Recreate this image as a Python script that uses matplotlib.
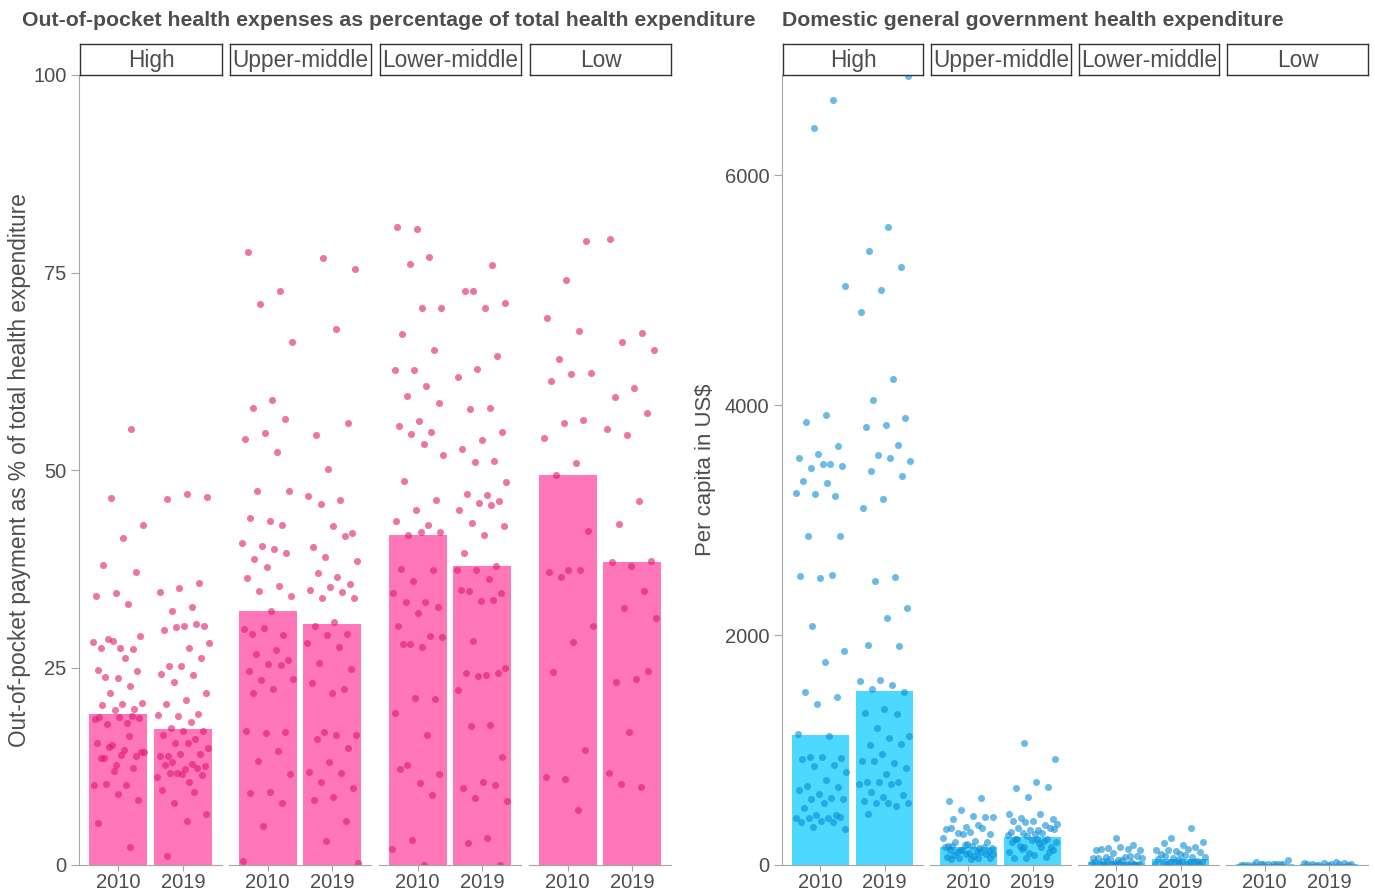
import numpy as np
import matplotlib
matplotlib.use("Agg")
import matplotlib.pyplot as plt

plt.rcParams['font.family'] = ['Liberation Sans', 'DejaVu Sans']

W, H = 1375, 893

income_groups = ["High", "Upper-middle", "Lower-middle", "Low"]
years = ["2010", "2019"]

# ---- Left panel: out-of-pocket % of total health expenditure ----
oop_bar_2010 = [19.1, 32.1, 41.8, 49.4]
oop_bar_2019 = [17.2, 30.5, 37.8, 38.4]

oop_high_2010 = [55.2, 46.5, 43.0, 41.4, 38.0, 37.1, 34.4, 34.0, 33.0, 28.6, 29.0, 27.5, 27.5,
                 27.4, 28.4, 28.2, 26.2, 23.8, 24.6, 23.7, 24.7, 22.7, 21.8, 20.5, 20.4, 20.2,
                 19.7, 19.6, 18.5, 18.0, 17.9, 18.6, 18.7, 18.7, 18.8, 15.2, 14.3, 14.5, 13.6,
                 13.8, 12.6, 15.4, 16.3, 15.0, 14.3, 13.9, 13.5, 12.3, 11.9, 10.1, 10.1, 10.3,
                 8.2, 9.0, 5.3, 2.3]
oop_high_2019 = [46.6, 46.9, 46.3, 35.7, 35.1, 34.6, 32.7, 32.2, 30.3, 30.2, 29.7, 30.5, 30.1,
                 28.1, 27.5, 25.2, 26.2, 25.2, 24.2, 24.0, 23.2, 21.8, 20.9, 20.4, 19.1, 18.8,
                 19.0, 18.1, 17.4, 17.0, 16.9, 16.4, 15.9, 15.4, 14.8, 15.4, 13.8, 14.1, 14.1,
                 13.8, 12.8, 13.1, 12.5, 12.2, 12.7, 12.3, 11.7, 11.2, 10.5, 11.6, 11.4, 11.5,
                 9.5, 9.2, 7.9, 6.5, 5.6, 1.1]
oop_um_2010 = [77.6, 72.7, 71.0, 66.2, 58.8, 57.9, 56.5, 54.7, 53.9, 52.3, 47.3, 47.3, 43.5,
               43.9, 43.1, 40.4, 40.7, 40.0, 38.7, 39.5, 37.7, 36.3, 35.3, 34.7, 34.1, 32.2,
               29.3, 29.1, 30.0, 29.9, 27.2, 26.7, 26.0, 25.5, 24.6, 25.3, 23.4, 23.5, 22.3,
               21.8, 16.8, 16.7, 16.9, 14.4, 13.2, 11.5, 9.2, 9.1, 7.9, 4.9, 0.5]
oop_um_2019 = [76.8, 75.4, 67.9, 54.4, 56.0, 50.1, 46.7, 46.2, 45.7, 42.0, 42.9, 40.3, 41.6,
               39.0, 38.5, 36.5, 37.0, 35.6, 35.2, 34.8, 34.5, 33.8, 33.8, 30.8, 30.2, 29.3,
               29.1, 28.1, 27.6, 25.6, 24.8, 21.8, 23.0, 22.3, 16.8, 16.4, 16.4, 16.0, 14.8,
               13.1, 11.8, 11.6, 10.5, 9.8, 8.6, 8.2, 5.6, 3.0, 0.2]
oop_lm_2010 = [80.5, 80.8, 76.9, 76.1, 70.5, 70.5, 67.2, 65.2, 62.6, 62.6, 60.6, 59.4, 58.5,
               56.2, 55.6, 54.8, 54.6, 51.9, 53.3, 48.6, 46.2, 45.0, 43.5, 43.1, 41.8, 42.1,
               42.2, 37.5, 37.4, 35.9, 34.4, 33.3, 33.3, 32.7, 31.9, 30.2, 29.0, 28.0, 28.9,
               27.6, 28.0, 21.0, 21.1, 19.3, 16.5, 12.6, 11.5, 10.4, 12.2, 8.8, 3.2, 2.0, 0.0]
oop_lm_2019 = [76.0, 72.6, 71.2, 70.5, 72.7, 64.4, 62.8, 61.8, 57.9, 57.7, 54.8, 53.8, 52.6,
               51.1, 51.0, 48.5, 46.8, 47.0, 46.1, 45.8, 45.0, 45.6, 43.3, 42.9, 41.8, 39.5,
               37.9, 37.4, 37.3, 36.2, 34.7, 34.4, 33.4, 34.8, 33.5, 28.3, 24.9, 24.1, 24.3,
               24.3, 23.9, 22.1, 17.7, 17.6, 13.7, 10.5, 9.8, 10.1, 8.5, 8.1, 3.4, 2.8, 0.0]
oop_low_2010 = [79.0, 74.1, 69.3, 67.6, 64.0, 62.3, 62.2, 61.3, 56.3, 55.9, 54.0, 50.9, 49.4,
                42.3, 37.4, 37.1, 37.4, 36.5, 30.2, 28.2, 24.4, 14.5, 10.9, 11.1, 7.0]
oop_low_2019 = [79.3, 67.4, 66.2, 65.2, 60.4, 59.2, 57.2, 54.4, 55.2, 46.1, 43.2, 38.5, 37.9,
                38.3, 34.7, 32.5, 31.3, 23.5, 23.2, 24.6, 16.8, 11.6, 9.9, 10.2]

# ---- Right panel: domestic general government health expenditure per capita ----
gov_bar_2010 = [1130, 157, 30, 8]
gov_bar_2019 = [1513, 243, 50, 10]

gov_high_2010 = [6652, 6406, 5038, 3910, 3852, 3641, 3577, 3539, 3490, 3452, 3472, 3490, 3340,
                 3206, 3226, 3232, 3325, 2858, 2864, 2493, 2516, 2522, 2076, 1864, 1765, 1502,
                 1458, 1403, 1142, 1119, 939, 933, 936, 919, 867, 858, 809, 736, 687, 675, 617,
                 652, 580, 577, 571, 536, 498, 432, 437, 411, 406, 409, 415, 383, 377, 374, 328,
                 310]
gov_high_2019 = [6860, 5551, 5339, 5197, 4997, 4811, 4226, 4046, 3890, 3824, 3806, 3655, 3565,
                 3513, 3539, 3426, 3380, 3180, 3102, 2507, 2467, 2237, 2148, 1913, 1904, 1606,
                 1597, 1563, 1528, 1502, 1354, 1319, 1313, 1189, 1119, 1104, 1041, 1055, 963,
                 904, 890, 907, 846, 789, 722, 722, 722, 702, 704, 635, 606, 589, 557, 513, 539,
                 536, 536, 443]
gov_um_2010 = [557, 580, 475, 417, 423, 403, 420, 333, 316, 345, 278, 270, 284, 325, 325, 267,
               232, 212, 203, 203, 183, 162, 151, 130, 151, 165, 165, 154, 171, 154, 122, 110,
               122, 101, 128, 113, 130, 96, 81, 90, 93, 99, 72, 58, 61, 58, 55, 49]
gov_um_2019 = [1058, 922, 722, 667, 678, 588, 446, 446, 412, 397, 383, 383, 345, 374, 354, 301,
               319, 322, 304, 287, 281, 281, 310, 267, 229, 229, 255, 264, 191, 168, 159, 217,
               203, 212, 159, 200, 229, 226, 116, 104, 116, 159, 142, 128, 87, 58, 70, 64]
gov_lm_2010 = [232, 128, 136, 145, 133, 159, 142, 174, 107, 64, 67, 70, 75, 43, 58, 81, 52, 58,
               43, 35, 6, 14, 29, 12, 23, 6, 17, 9, 29, 6, 14, 0, 0, 0]
gov_lm_2019 = [325, 232, 197, 174, 188, 159, 122, 130, 136, 133, 116, 96, 96, 72, 58, 72, 87,
               81, 35, 41, 52, 29, 29, 23, 35, 14, 23, 29, 6, 6, 6, 12, 6]
gov_low_2010 = [9, 9, 3, 12, 29, 41, 9, 3, 9, 9, 0, 9, 0]
gov_low_2019 = [6, 9, 0, 6, 9, 9, 14, 20, 14, 23, 3, 3, 3]

oop_points = [(oop_high_2010, oop_high_2019), (oop_um_2010, oop_um_2019),
              (oop_lm_2010, oop_lm_2019), (oop_low_2010, oop_low_2019)]
gov_points = [(gov_high_2010, gov_high_2019), (gov_um_2010, gov_um_2019),
              (gov_lm_2010, gov_lm_2019), (gov_low_2010, gov_low_2019)]

TXT = "#4d4d4d"
AXC = "#a6a6a6"


def rect(x0, x1, y0, y1):
    return [x0 / W, 1 - y1 / H, (x1 - x0) / W, (y1 - y0) / H]


def jitter(n, seed):
    # deterministic low-discrepancy horizontal spread (no data meaning)
    k = np.arange(n)
    return 0.8 * (((k + 1) * 0.6180339887 + seed) % 1.0) - 0.4


fig = plt.figure(figsize=(W / 100, H / 100), dpi=100)


def draw_group(xs, bars10, bars19, pts, ylim, yticks, ylabels, bar_col, pt_col, pt_alpha,
               ylab_x, ylabel, ylab_size, title, title_x):
    for i, (x0, x1) in enumerate(xs):
        ax = fig.add_axes(rect(x0, x1, 75, 865))
        ax.bar([1, 2], [bars10[i], bars19[i]], width=0.9, color=bar_col, zorder=1)
        for j, vals in enumerate(pts[i]):
            vals = np.asarray(vals, dtype=float)
            xj = (j + 1) + jitter(len(vals), 0.13 + 0.37 * i + 0.21 * j)
            ax.scatter(xj, vals, s=26, color=pt_col, alpha=pt_alpha, linewidths=0, zorder=2)
        ax.set_xlim(0.4, 2.6)
        ax.set_ylim(*ylim)
        ax.set_xticks([1, 2])
        ax.set_xticklabels(years)
        for s in ["top", "right"]:
            ax.spines[s].set_visible(False)
        ax.spines["bottom"].set_color(AXC)
        ax.spines["left"].set_color(AXC)
        ax.tick_params(axis="x", colors=AXC, labelcolor=TXT, labelsize=14.5, length=4, pad=2)
        if i == 0:
            ax.set_yticks(yticks)
            ax.set_yticklabels(ylabels)
            ax.tick_params(axis="y", colors=AXC, labelcolor=TXT, labelsize=14.5, length=6, pad=3)
        else:
            ax.spines["left"].set_visible(False)
            ax.set_yticks([])
        # strip
        sx = fig.add_axes(rect(x0 + 1, x1, 44, 75))
        sx.set_xticks([]); sx.set_yticks([])
        for s in sx.spines.values():
            s.set_color("#333333"); s.set_linewidth(1.0)
        sx.text(0.5, 0.47, income_groups[i], ha="center", va="center", fontsize=16.3, color=TXT,
                transform=sx.transAxes)
    fig.text(ylab_x / W, 1 - 470 / H, ylabel, rotation=90, ha="center", va="center",
             fontsize=ylab_size, color=TXT)
    fig.text(title_x / W, 1 - 20 / H, title, ha="left", va="center", fontsize=15.3,
             fontweight="bold", color=TXT)


left_xs = [(79, 222), (229, 371), (379, 521), (529, 671)]
right_xs = [(782, 923), (930, 1071), (1078, 1219), (1226, 1368)]

draw_group(left_xs, oop_bar_2010, oop_bar_2019, oop_points, (0, 100), [0, 25, 50, 75, 100],
           ["0", "25", "50", "75", "100"], "#FF76B9", "#E0196E", 0.6, 20,
           "Out-of-pocket payment as % of total health expenditure", 16.3,
           "Out-of-pocket health expenses as percentage of total health expenditure", 22)

draw_group(right_xs, gov_bar_2010, gov_bar_2019, gov_points, (0, 6870), [0, 2000, 4000, 6000],
           ["0", "2000", "4000", "6000"], "#4DD8FF", "#0A8ED8", 0.6, 705,
           "Per capita in US$", 15.9, "Domestic general government health expenditure", 782)

fig.savefig("out.png", dpi=100)
